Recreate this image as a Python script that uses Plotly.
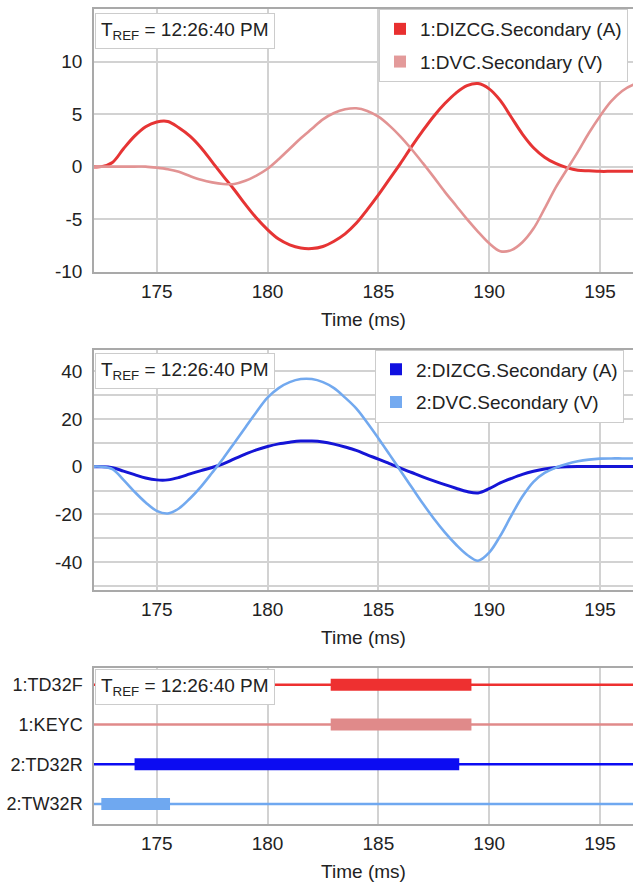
import plotly.graph_objects as go

# ---------------- data ----------------
time_ms = [172.0, 172.5, 173.0, 173.5, 174.0, 174.5, 175.0, 175.5, 176.0, 176.5,
           177.0, 177.5, 178.0, 178.5, 179.0, 179.5, 180.0, 180.5, 181.0, 181.5,
           182.0, 182.5, 183.0, 183.5, 184.0, 184.5, 185.0, 185.5, 186.0, 186.5,
           187.0, 187.5, 188.0, 188.5, 189.0, 189.5, 190.0, 190.5, 191.0, 191.5,
           192.0, 192.5, 193.0, 193.5, 194.0, 194.5, 195.0, 195.5, 196.0, 196.5,
           197.0]

dizcg_1 = [0.0, 0.0, 0.4, 1.7, 2.9, 3.8, 4.25, 4.3, 3.7, 2.9,
           1.8, 0.45, -0.9, -2.2, -3.6, -4.9, -6.0, -6.9, -7.45, -7.75,
           -7.8, -7.6, -7.1, -6.4, -5.4, -4.1, -2.7, -1.2, 0.3, 1.9,
           3.4, 4.8, 6.0, 7.0, 7.7, 7.9, 7.4, 6.3, 4.7, 3.1,
           1.8, 0.9, 0.3, -0.1, -0.35, -0.4, -0.45, -0.45, -0.45, -0.45,
           -0.45]

dvc_1 = [0.0, 0.0, 0.0, 0.0, 0.0, 0.0, -0.1, -0.25, -0.5, -0.9,
         -1.25, -1.5, -1.65, -1.65, -1.35, -0.85, -0.2, 0.7, 1.7, 2.7,
         3.6, 4.5, 5.1, 5.45, 5.55, 5.3, 4.75, 3.9, 2.85, 1.65,
         0.35, -1.0, -2.4, -3.7, -5.0, -6.2, -7.3, -8.05, -7.95, -7.2,
         -5.9, -4.0, -2.0, -0.3, 1.4, 3.2, 4.8, 6.2, 7.2, 7.8,
         8.0]

dizcg_2 = [0.0, 0.0, -0.4, -1.8, -3.3, -4.7, -5.5, -5.5, -4.5, -3.0,
           -1.6, -0.3, 1.2, 3.3, 5.3, 7.1, 8.5, 9.6, 10.3, 10.8,
           10.8, 10.4, 9.5, 8.3, 6.9, 5.0, 3.2, 1.3, -0.6, -2.4,
           -4.2, -5.9, -7.5, -9.0, -10.4, -11.0, -9.2, -6.8, -4.9, -3.2,
           -1.9, -0.9, -0.3, 0.0, 0.1, 0.1, 0.1, 0.1, 0.1, 0.1,
           0.1]

dvc_2 = [0.0, 0.0, -1.0, -5.5, -10.5, -15.0, -18.5, -19.6, -17.5, -13.3,
         -8.3, -2.5, 3.5, 10.0, 16.5, 23.0, 29.0, 33.0, 35.5, 36.8,
         36.8, 35.5, 33.0, 29.0, 24.5, 18.5, 12.0, 5.2, -1.7, -8.5,
         -15.3, -21.7, -27.5, -32.6, -36.9, -39.4, -36.0, -29.0, -20.5, -12.5,
         -6.3, -2.6, -0.4, 1.2, 2.3, 3.0, 3.4, 3.5, 3.5, 3.5,
         3.5]

channels = ["1:TD32F", "1:KEYC", "2:TD32R", "2:TW32R"]
asserted_start = [182.85, 182.85, 174.0, 172.5]
asserted_end = [189.2, 189.2, 188.65, 175.6]

x_tick_vals = [175, 180, 185, 190, 195]
x_tick_text = ["175", "180", "185", "190", "195"]
y1_tick_vals = [-10, -5, 0, 5, 10]
y1_tick_text = ["-10", "-5", "0", "5", "10"]
y2_tick_vals = [-40, -20, 0, 20, 40]
y2_tick_text = ["-40", "-20", "0", "20", "40"]
t_ref_text = "T<sub>REF</sub> = 12:26:40 PM"
x_title = "Time (ms)"

# ---------------- styles ----------------
RED = "#e63434"
PINK = "#e29393"
BLUE = "#1515d6"
LBLUE = "#72a9ef"
CH_COLORS = ["#ee3030", "#e08a8a", "#0c0cf2", "#6fa8f0"]
FONT = "Liberation Sans, Arial, sans-serif"
FS = 19
GRID = "#d2d2d2"
FRAME = "#a9a9a9"
TXT = "#222222"

W, H = 633, 884
L = 94


def ydom(top_px, bottom_px):
    return [1 - bottom_px / H, 1 - top_px / H]


fig = go.Figure()

# panel 1
fig.add_trace(go.Scatter(x=time_ms, y=dizcg_1, mode="lines", line=dict(color=RED, width=3, shape="spline"),
                         showlegend=False, xaxis="x", yaxis="y"))
fig.add_trace(go.Scatter(x=time_ms, y=dvc_1, mode="lines", line=dict(color=PINK, width=2.6, shape="spline"),
                         showlegend=False, xaxis="x", yaxis="y"))
fig.add_trace(go.Scatter(x=[None], y=[None], mode="markers", name="1:DIZCG.Secondary (A)",
                         marker=dict(symbol="square", size=12, color="#e83030"), legend="legend",
                         legendgroup="a1", xaxis="x", yaxis="y"))
fig.add_trace(go.Scatter(x=[None], y=[None], mode="markers", name="1:DVC.Secondary (V)",
                         marker=dict(symbol="square", size=12, color="#e39a9a"), legend="legend",
                         legendgroup="b1", xaxis="x", yaxis="y"))

# panel 2
fig.add_trace(go.Scatter(x=time_ms, y=dizcg_2, mode="lines", line=dict(color=BLUE, width=3, shape="spline"),
                         showlegend=False, xaxis="x2", yaxis="y2"))
fig.add_trace(go.Scatter(x=time_ms, y=dvc_2, mode="lines", line=dict(color=LBLUE, width=2.6, shape="spline"),
                         showlegend=False, xaxis="x2", yaxis="y2"))
fig.add_trace(go.Scatter(x=[None], y=[None], mode="markers", name="2:DIZCG.Secondary (A)",
                         marker=dict(symbol="square", size=12, color="#1010e0"), legend="legend2",
                         legendgroup="a2", xaxis="x2", yaxis="y2"))
fig.add_trace(go.Scatter(x=[None], y=[None], mode="markers", name="2:DVC.Secondary (V)",
                         marker=dict(symbol="square", size=12, color="#74aaf0"), legend="legend2",
                         legendgroup="b2", xaxis="x2", yaxis="y2"))

# panel 3 (digital channels)
for name, s, e, c in zip(channels, asserted_start, asserted_end, CH_COLORS):
    fig.add_trace(go.Scatter(x=[time_ms[0], time_ms[-1]], y=[name, name], mode="lines",
                             line=dict(color=c, width=2.5), showlegend=False, xaxis="x3", yaxis="y3"))
    fig.add_trace(go.Scatter(x=[s, e], y=[name, name], mode="lines",
                             line=dict(color=c, width=12), showlegend=False, xaxis="x3", yaxis="y3"))

xr = [172.17, 196.49]
xcommon = dict(range=xr, tickvals=x_tick_vals, ticktext=x_tick_text, showgrid=True, gridcolor=GRID,
               gridwidth=1.5, showline=True, linecolor=FRAME, linewidth=1.5, mirror=True, zeroline=False,
               ticks="", tickfont=dict(size=FS, color=TXT, family=FONT), automargin=False,
               title=dict(text=x_title, font=dict(size=FS, color=TXT, family=FONT), standoff=12),
               ticklabelstandoff=1)
ycommon = dict(showgrid=True, gridcolor=GRID, gridwidth=1.5, showline=True, linecolor=FRAME,
               linewidth=1.5, zeroline=False, ticks="", tickfont=dict(size=FS, color=TXT, family=FONT),
               ticklabelstandoff=6, automargin=False)

legend_common = dict(xanchor="left", yanchor="top", bgcolor="white", bordercolor="#cccccc", borderwidth=1,
                     font=dict(size=FS, color=TXT, family=FONT), tracegroupgap=5)

fig.update_layout(
    width=W, height=H,
    margin=dict(l=L, r=0, t=0, b=0, autoexpand=False),
    paper_bgcolor="white", plot_bgcolor="white",
    font=dict(family=FONT, size=FS, color=TXT),
    xaxis=dict(domain=[0, 1], anchor="y", **xcommon),
    yaxis=dict(domain=ydom(9, 272), anchor="x", range=[-10.03, 15.0], tickvals=y1_tick_vals,
               ticktext=y1_tick_text,
               minor=dict(dtick=5, showgrid=True, gridcolor=GRID, gridwidth=1.5), **ycommon),
    xaxis2=dict(domain=[0, 1], anchor="y2", **xcommon),
    yaxis2=dict(domain=ydom(349.5, 590), anchor="x2", range=[-51.7, 49.2], tickvals=y2_tick_vals,
                ticktext=y2_tick_text,
                minor=dict(tickvals=[-50, -30, -10, 10, 30], showgrid=True, gridcolor=GRID, gridwidth=1.5),
                **ycommon),
    xaxis3=dict(domain=[0, 1], anchor="y3", **xcommon),
    yaxis3=dict(domain=ydom(668, 824), anchor="x3", type="category",
                categoryorder="array", categoryarray=channels[::-1], range=[-0.5, 3.42],
                showgrid=False, showline=True, linecolor=FRAME, linewidth=1.5, zeroline=False,
                ticks="", tickfont=dict(size=18, color=TXT, family=FONT), ticklabelstandoff=6,
                automargin=False),
    legend=dict(x=(379 - L) / (W - L), y=1 - 9 / H, **legend_common),
    legend2=dict(x=(375 - L) / (W - L), y=1 - 349.5 / H, **legend_common),
    hovermode=False,
)

for yref, xref, shift in [("y domain", "x domain", -4), ("y2 domain", "x2 domain", -4), ("y3 domain", "x3 domain", -1)]:
    fig.add_annotation(text=t_ref_text, xref=xref, yref=yref, x=0, y=1, xanchor="left", yanchor="top",
                       yshift=shift, xshift=1, showarrow=False, bgcolor="white", bordercolor="#cccccc",
                       borderwidth=1, borderpad=5, font=dict(size=FS, color=TXT, family=FONT))

fig.write_html("out.html", config={"displayModeBar": False},
               post_script="document.body.style.margin='0';document.body.style.overflow='hidden';")
